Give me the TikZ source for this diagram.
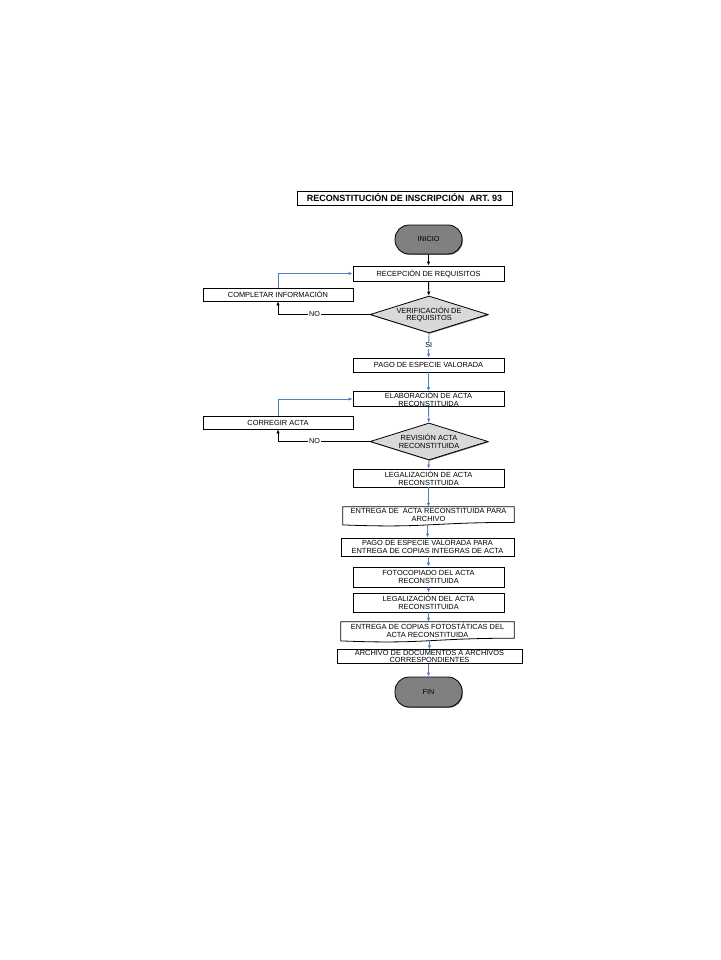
\documentclass[tikz,border=0pt]{standalone}
\usepackage{fontspec}
\setmainfont{Liberation Sans}
\usetikzlibrary{shapes.geometric}
\usetikzlibrary{arrows.meta}
\usetikzlibrary{shadows}
\definecolor{flowblue}{RGB}{79,129,189}
\tikzset{
    shad/.style = {drop shadow={shadow xshift=0.8pt,shadow yshift=-0.8pt,fill=black!55,opacity=1}},
    titlebox/.style = {rectangle, draw=black, fill=white, line width=0.8pt, shad, minimum width=215pt, minimum height=14pt, inner sep=0pt, font=\fontsize{9}{9}\selectfont\bfseries},
    proc/.style = {rectangle, draw=black, fill=white, line width=0.8pt, shad, align=center, inner sep=0.3pt, minimum height=13pt, font=\fontsize{7.4}{7.8}\selectfont},
    term/.style = {rectangle, rounded corners=14pt, draw=black, fill=black!50, line width=0.8pt, shad, minimum width=67pt, minimum height=29pt, font=\fontsize{7.2}{7.8}\selectfont},
    decis/.style = {diamond, aspect=3.2, draw=black, fill=black!15, line width=0.8pt, shad, inner sep=0pt, minimum width=118pt, minimum height=37pt, align=center, font=\fontsize{7.4}{7.8}\selectfont},
    docnode/.style = {rectangle, draw=none, align=center, inner sep=0pt, font=\fontsize{7.4}{7.8}\selectfont},
    docline/.style = {draw=black, line width=0.8pt},
    lbl/.style = {fill=white, text=black, inner sep=0.8pt, font=\fontsize{7.2}{7.8}\selectfont},
    edgen/.style = {-{Latex[length=4pt,width=3.5pt]}, line width=0.9pt, black},
    edgeb/.style = {-{Latex[length=4pt,width=3.5pt]}, line width=0.9pt, flowblue}
}
\begin{document}
\begin{tikzpicture}[x=1pt,y=-1pt]
\path[use as bounding box] (0,0) rectangle (720,960);
%
\node[titlebox] at (404.5,198) (tit) {RECONSTITUCIÓN DE INSCRIPCIÓN\ \ ART. 93};
%
\node[term] at (428.5,239.5) (ini) {INICIO};
\node[proc,minimum width=151pt,minimum height=15pt] at (428.5,273.5) (rec) {RECEPCIÓN DE REQUISITOS};
\node[proc,minimum width=150pt] at (278,294.5) (com) {COMPLETAR INFORMACIÓN};
\node[decis] at (429,314.5) (ver) {VERIFICACIÓN DE\\REQUISITOS};
\node[proc,minimum width=151pt,minimum height=14pt] at (428.5,365) (pag1) {PAGO DE ESPECIE VALORADA};
\node[proc,minimum width=151pt,minimum height=14pt] at (428.5,399) (ela) {ELABORACIÓN DE ACTA\\RECONSTITUIDA};
\node[proc,minimum width=150pt] at (278,422.5) (cor) {CORREGIR ACTA};
\node[decis] at (429,441.5) (rev) {REVISIÓN ACTA\\RECONSTITUIDA};
\node[proc,minimum width=151pt,minimum height=18pt] at (428.5,478) (leg1) {LEGALIZACIÓN DE ACTA\\RECONSTITUIDA};
\node[docnode,minimum width=171pt,minimum height=16pt] at (428.5,515) (ent1) {ENTREGA DE\ \ ACTA RECONSTITUIDA PARA\\ARCHIVO};
\node[proc,minimum width=173pt,minimum height=18pt] at (427.5,547) (pag2) {PAGO DE ESPECIE VALORADA PARA\\ENTREGA DE COPIAS INTEGRAS DE ACTA};
\node[proc,minimum width=151pt,minimum height=20pt] at (428.5,577) (fot) {FOTOCOPIADO DEL ACTA\\RECONSTITUIDA};
\node[proc,minimum width=151pt,minimum height=19pt] at (428.5,602.5) (leg2) {LEGALIZACIÓN DEL ACTA\\RECONSTITUIDA};
\node[docnode,minimum width=173pt,minimum height=17pt] at (427.5,630.5) (ent2) {ENTREGA DE COPIAS FOTOSTÁTICAS DEL\\ACTA RECONSTITUIDA};
\node[proc,minimum width=185pt,minimum height=13pt] at (429.5,656.5) (arc) {ARCHIVO DE DOCUMENTOS A ARCHIVOS\\CORRESPONDIENTES};
\node[term,minimum height=30pt] at (428.5,692) (fin) {FIN};
%
% document outlines
\draw[docline] ([yshift=-1.7pt]ent1.south west) -- (ent1.north west) -- (ent1.north east) -- ([yshift=0.8pt]ent1.south east) .. controls ([yshift=0.8pt]ent1.south) and ([yshift=-5pt]ent1.south) .. ([yshift=-1.7pt]ent1.south west) -- cycle;
\draw[docline] ([yshift=-1.7pt]ent2.south west) -- (ent2.north west) -- (ent2.north east) -- ([yshift=1pt]ent2.south east) .. controls ([yshift=1pt]ent2.south) and ([yshift=-5.1pt]ent2.south) .. ([yshift=-1.7pt]ent2.south west) -- cycle;
%
\draw[edgen] (ini) -- (rec);
\draw[edgen] (rec) -- (ver);
\draw[edgen] (ver.west) -- node[lbl,pos=0.6] {NO} (ver.west -| com) -- (com.south);
\draw[edgeb] (com.north) |- (rec.west);
\draw[edgeb] (ver.south) -- node[lbl] {SI} (pag1.north);
\draw[edgeb] (pag1) -- (ela);
\draw[edgeb] (ela) -- (rev);
\draw[edgen] (rev.west) -- node[lbl,pos=0.6] {NO} (rev.west -| cor) -- (cor.south);
\draw[edgeb] (cor.north) |- (ela.west);
\draw[edgeb] (rev.south) -- (leg1.north);
\draw[edgeb] (leg1.south) -- (leg1.south |- ent1.north);
\draw[edgeb] ([yshift=-1.7pt]ent1.south -| pag2.north) -- (pag2.north);
\draw[edgeb] (pag2.south -| fot.north) -- (fot.north);
\draw[edgeb] (fot) -- (leg2);
\draw[edgeb] (leg2.south) -- (leg2.south |- ent2.north);
\draw[edgeb] ([yshift=-1.6pt]ent2.south -| arc.north) -- (arc.north);
\draw[edgeb] (arc.south -| fin.north) -- (fin.north);

\end{tikzpicture}
\end{document}
